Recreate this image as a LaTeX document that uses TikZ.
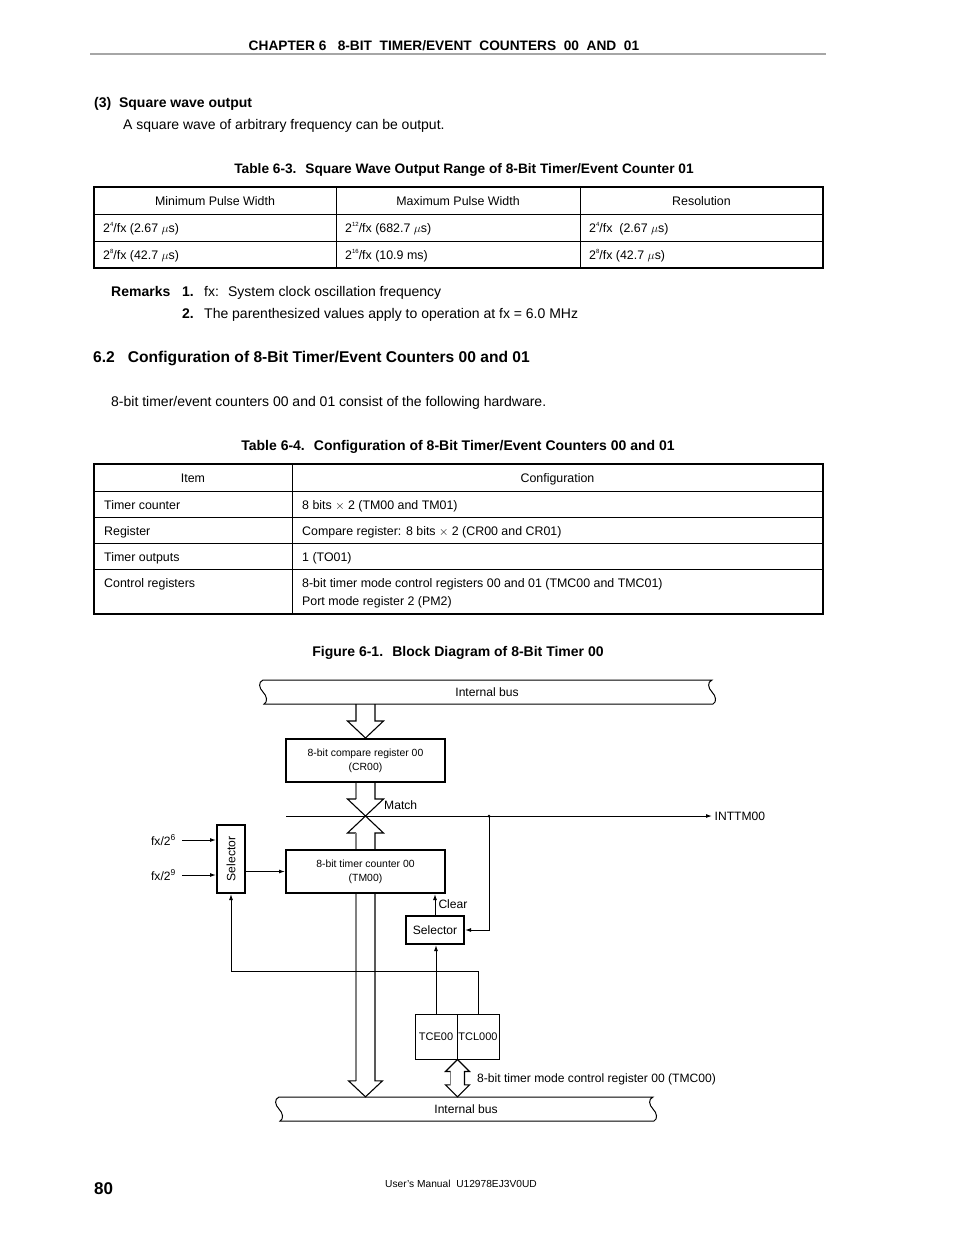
\documentclass[tikz,border=0pt]{standalone}
\usepackage{fontspec}
\setmainfont{Liberation Sans}
\usetikzlibrary{arrows.meta,calc}

\newcommand{\bodytext}{\fontsize{14}{17}\selectfont}
\newcommand{\headtext}{\fontsize{13.7}{16}\selectfont\bfseries}
\newcommand{\sectext}{\fontsize{15.6}{18}\selectfont\bfseries}
\newcommand{\celltext}{\fontsize{12.4}{15}\selectfont}
\newcommand{\figtext}{\fontsize{12.1}{14}\selectfont}
\newcommand{\boxtext}{\fontsize{10.4}{14}\selectfont}
\newcommand{\tsup}[1]{\raisebox{0.85ex}{\fontsize{6}{6}\selectfont #1}}

\tikzset{
  txt/.style={inner sep=0pt, anchor=base west},
  ctxt/.style={inner sep=0pt, anchor=base},
  blk/.style={draw, line width=2, minimum width=159, minimum height=43, inner sep=0pt, align=center, font=\boxtext},
  sig/.style={line width=1, -{Latex[length=6,width=4]}},
  hollow/.style={line width=1.1, line join=miter},
}

\begin{document}
\begin{tikzpicture}[x=1pt,y=1pt,yscale=-1,xscale=1]
		\useasboundingbox (0,0) rectangle (954,1235);
		\fill[white] (0,0) rectangle (954,1235);

		% Page head
		\node[ctxt, font=\headtext] (head) at (444,50) {CHAPTER 6 \ \ 8-BIT \ TIMER/EVENT \ COUNTERS \ 00 \ AND \ 01};
		\draw[gray!70, line width=1.5] (90,54) -- (826,54);

		% (3) Square wave output
		\node[txt, font=\bodytext\bfseries] (sqhead) at (94,107) {(3) \ Square wave output};
		\node[txt, font=\bodytext] (sqtext) at (123,129) {A square wave of arbitrary frequency can be output.};

		% Table 6-3
		\node[ctxt, font=\headtext] (t63) at (464,173) {Table 6-3. \ Square Wave Output Range of 8-Bit Timer/Event Counter 01};
		\draw[line width=2] (94,187) rectangle (823,268);
		\draw[line width=0.9] (94,214) -- (823,214);
		\draw[line width=0.9] (94,241) -- (823,241);
		\draw[line width=0.9] (336,187) -- (336,268);
		\draw[line width=0.9] (580,187) -- (580,268);
		\node[ctxt, font=\celltext] at (215,205) {Minimum Pulse Width};
		\node[ctxt, font=\celltext] at (458,205) {Maximum Pulse Width};
		\node[ctxt, font=\celltext] at (701.5,205) {Resolution};
		\node[txt, font=\celltext] at (103,232.4) {2\tsup{4}/fx (2.67 $\mu$s)};
		\node[txt, font=\celltext] at (345,232.4) {2\tsup{12}/fx (682.7 $\mu$s)};
		\node[txt, font=\celltext] at (589,232.4) {2\tsup{4}/fx \ (2.67 $\mu$s)};
		\node[txt, font=\celltext] at (103,259) {2\tsup{8}/fx (42.7 $\mu$s)};
		\node[txt, font=\celltext] at (345,259) {2\tsup{16}/fx (10.9 ms)};
		\node[txt, font=\celltext] at (589,259) {2\tsup{8}/fx (42.7 $\mu$s)};

		% Remarks
		\node[txt, font=\bodytext\bfseries] (rem) at (111,296) {Remarks};
		\node[txt, font=\bodytext\bfseries] at (182,296) {1.};
		\node[txt, font=\bodytext] at (204,296) {fx: \ System clock oscillation frequency};
		\node[txt, font=\bodytext\bfseries] at (182,318) {2.};
		\node[txt, font=\bodytext] at (204,318) {The parenthesized values apply to operation at fx = 6.0 MHz};

		% 6.2 heading
		\node[txt, font=\sectext] (sec) at (93,362.6) {6.2 \ \ Configuration of 8-Bit Timer/Event Counters 00 and 01};
		\node[txt, font=\bodytext] at (111,406) {8-bit timer/event counters 00 and 01 consist of the following hardware.};

		% Table 6-4
		\node[ctxt, font=\bodytext\bfseries] (t64) at (458,450) {Table 6-4. \ Configuration of 8-Bit Timer/Event Counters 00 and 01};
		\draw[line width=2] (94,464) rectangle (823,614);
		\foreach \ry in {491,517,543,569}
			\draw[line width=0.9] (94,\ry) -- (823,\ry);
		\draw[line width=0.9] (292,464) -- (292,614);
		\node[ctxt, font=\celltext] at (193,482) {Item};
		\node[ctxt, font=\celltext] at (557.5,482) {Configuration};
		\node[txt, font=\celltext] at (104,509.4) {Timer counter};
		\node[txt, font=\celltext] at (302,509.4) {8 bits $\times$ 2 (TM00 and TM01)};
		\node[txt, font=\celltext] at (104,535.4) {Register};
		\node[txt, font=\celltext] at (302,535.4) {Compare register: 8 bits $\times$ 2 (CR00 and CR01)};
		\node[txt, font=\celltext] at (104,561.4) {Timer outputs};
		\node[txt, font=\celltext] at (302,561.4) {1 (TO01)};
		\node[txt, font=\celltext] at (104,587.4) {Control registers};
		\node[txt, font=\celltext] at (302,587.4) {8-bit timer mode control registers 00 and 01 (TMC00 and TMC01)};
		\node[txt, font=\celltext] at (302,605.4) {Port mode register 2 (PM2)};

		% Figure 6-1
		\node[ctxt, font=\bodytext\bfseries] (f61) at (458,656) {Figure 6-1. \ Block Diagram of 8-Bit Timer 00};

		% Internal buses
		\draw[line width=1] (263,680) -- (712,680) .. controls (707,682) and (708,688) .. (712,692) .. controls (716,696) and (717,702) .. (713,704) -- (264,704) .. controls (268,702) and (267,696) .. (263,692) .. controls (259,688) and (258,682) .. (263,680) -- cycle;
		\node[inner sep=0pt, minimum width=450, minimum height=24, font=\figtext] (tbus) at (487,692) {Internal bus};
		\draw[line width=1] (279,1097) -- (653,1097) .. controls (648,1099) and (649,1105) .. (653,1109) .. controls (657,1113) and (658,1119) .. (654,1121) -- (280,1121) .. controls (284,1119) and (283,1113) .. (279,1109) .. controls (275,1105) and (274,1099) .. (279,1097) -- cycle;
		\node[inner sep=0pt, minimum width=374, minimum height=24, font=\figtext] (bbus) at (466,1109) {Internal bus};

		% Blocks
		\node[blk] (cr) at (365.5,760.5) {8-bit compare register 00\\(CR00)};
		\node[blk] (tm) at (365.5,871.5) {8-bit timer counter 00\\(TM00)};
		\node[draw, line width=2, minimum width=28, minimum height=68, inner sep=0pt, font=\figtext] (sela) at (231,859) {\rotatebox{90}{Selector}};
		\node[draw, line width=2, minimum width=58, minimum height=28, inner sep=0pt, font=\figtext] (selb) at (435,930) {Selector};
		\node[draw, line width=1, minimum width=42, minimum height=45, inner sep=0pt, font=\fontsize{11}{13}\selectfont] (tce) at (436,1036.5) {TCE00};
		\node[draw, line width=1, minimum width=42, minimum height=45, inner sep=0pt, font=\fontsize{11}{13}\selectfont] (tcl) at (478,1036.5) {TCL000};

		% Bus into CR00
		\coordinate (ct) at (cr.north |- tbus.south);
		\draw[hollow] ($(ct)+(-9.5,0)$) -- ($(cr.north)+(-9.5,-17)$) -- ($(cr.north)+(-18,-17)$) -- (cr.north) -- ($(cr.north)+(18,-17)$) -- ($(cr.north)+(9.5,-17)$) -- ($(ct)+(9.5,0)$);

		% Match line and INTTM00
		\coordinate (ml) at (286,816);
		\node[anchor=west, inner sep=2.5pt, font=\figtext] (int) at (712,816) {INTTM00};
		\draw[sig] (ml) -- (int.west);
		\coordinate (mx) at (cr.south |- ml);
		\node[txt, font=\figtext] (match) at (384,809.3) {Match};

		% CR00 to match point
		\draw[hollow, gray] ($(cr.south)+(-9.5,0)$) -- ($(mx)+(-9.5,-17)$);
		\draw[hollow] ($(mx)+(-9.5,-17)$) -- ($(mx)+(-18,-17)$) -- (mx) -- ($(mx)+(18,-17)$) -- ($(mx)+(9.5,-17)$) -- ($(cr.south)+(9.5,0)$);
		\draw[hollow] ($(tm.north)+(9.5,0)$) -- ($(mx)+(9.5,17)$) -- ($(mx)+(18,17)$) -- (mx) -- ($(mx)+(-18,17)$) -- ($(mx)+(-9.5,17)$);
		\draw[hollow, gray] ($(mx)+(-9.5,17)$) -- ($(tm.north)+(-9.5,0)$);

		% TM00 to lower bus
		\coordinate (bt) at (tm.south |- bbus.north);
		\draw[hollow, gray] ($(tm.south)+(-9.5,0)$) -- ($(bt)+(-9.5,-16)$);
		\draw[hollow] ($(bt)+(-9.5,-16)$) -- ($(bt)+(-17,-16)$) -- (bt) -- ($(bt)+(17,-16)$) -- ($(bt)+(9.5,-16)$) -- ($(tm.south)+(9.5,0)$);

		% Clock inputs
		\node[anchor=base east, inner sep=0pt, font=\figtext] (in6) at (176,845) {fx/2\textsuperscript{6}};
		\node[anchor=base east, inner sep=0pt, font=\figtext] (in9) at (176,880) {fx/2\textsuperscript{9}};
		\coordinate (a6) at ($(in6.base east)+(6,-5)$);
		\coordinate (a9) at ($(in9.base east)+(6,-5)$);
		\draw[sig] (a6) -- (a6 -| sela.west);
		\draw[sig] (a9) -- (a9 -| sela.west);
		\draw[sig] (sela.east |- tm.west) -- (tm.west);

		% Clear path
		\coordinate (jn) at (489,816);
		\fill (jn) circle (1.5);
		\draw[sig] (jn) |- (selb.east);
		\draw[sig] (selb.north) -- (selb.north |- tm.south) node[midway, right, inner sep=3pt, font=\figtext] {Clear};
		\draw[sig] (tce.north) -- (tce.north |- selb.south);
		\draw[sig] (tcl.north) -- ++(0,-42) -| (sela.south);

		% TMC00 to lower bus
		\coordinate (rt) at (tce.south east);
		\coordinate (rb) at (rt |- bbus.north);
		\draw[hollow] (rt) -- ($(rt)+(12,12)$) -- ($(rt)+(7,12)$) -- ($(rb)+(7,-12)$) -- ($(rb)+(12,-12)$) -- (rb) -- ($(rb)+(-12,-12)$) -- ($(rb)+(-7,-12)$);
		\draw[hollow, gray] ($(rb)+(-7,-12)$) -- ($(rt)+(-7,12)$);
		\draw[hollow] ($(rt)+(-7,12)$) -- ($(rt)+(-12,12)$) -- (rt);
		\node[txt, font=\figtext] (tmc) at (477,1082.3) {8-bit timer mode control register 00 (TMC00)};

		% Page foot
		\node[txt, font=\fontsize{17}{20}\selectfont\bfseries] (pg) at (94,1194) {80};
		\node[ctxt, font=\fontsize{10.2}{12}\selectfont] (man) at (461,1187.6) {User's Manual \ U12978EJ3V0UD};
	\end{tikzpicture}
\end{document}
